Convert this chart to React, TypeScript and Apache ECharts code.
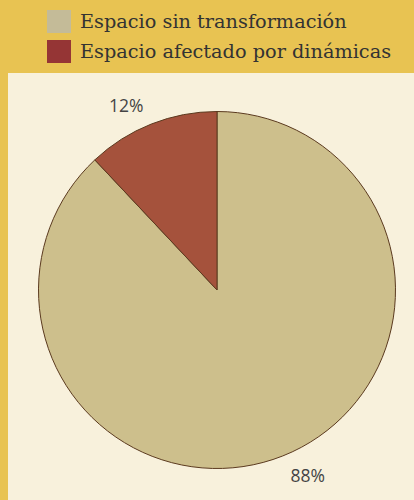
import React, { useEffect, useRef } from "react";
import * as echarts from "echarts";

const categories = ["Espacio sin transformación", "Espacio afectado por dinámicas"];
const values = [88, 12];
const sliceColors = ["#CDBF8C", "#A5523C"];
const legendColors = ["#C4BB98", "#953535"];

export default function App() {
  const ref = useRef<HTMLDivElement>(null);
  useEffect(() => {
    if (!ref.current) return;
    const chart = echarts.init(ref.current, null, { renderer: "svg" });
    chart.setOption({
      animation: false,
      backgroundColor: "#E8C352",
      graphic: [
        {
          type: "rect",
          z: -10,
          shape: { x: 8, y: 73, width: 406, height: 427 },
          style: { fill: "#F8F1DC" },
        },
      ],
      legend: {
        orient: "vertical",
        left: 47,
        top: 10,
        itemWidth: 24,
        itemHeight: 23,
        itemGap: 7,
        icon: "rect",
        padding: 0,
        textStyle: {
          fontFamily: "DejaVu Serif",
          fontSize: 19.3,
          color: "#333",
          padding: [1, 0, 0, 4],
        },
        data: categories.map((c, i) => ({
          name: c,
          itemStyle: { color: legendColors[i], borderWidth: 0 },
        })),
      },
      series: [
        {
          type: "pie",
          center: [217, 290],
          radius: 178.5,
          startAngle: 90,
          clockwise: true,
          avoidLabelOverlap: false,
          itemStyle: { borderColor: "#5B3A1F", borderWidth: 1 },
          label: {
            show: true,
            position: "outside",
            formatter: "{c}%",
            fontFamily: "Open Sans",
            fontSize: 17.5,
            color: "#444",
            distanceToLabelLine: 0,
          },
          labelLine: { show: false, length: 21, length2: 0 },
          emphasis: { disabled: true },
          data: categories.map((c, i) => ({
            name: c,
            value: values[i],
            itemStyle: { color: sliceColors[i] },
          })),
        },
      ],
    });
    return () => chart.dispose();
  }, []);
  return (
    <div
      ref={ref}
      style={{ position: "absolute", left: 0, top: 0, width: 414, height: 500 }}
    />
  );
}
